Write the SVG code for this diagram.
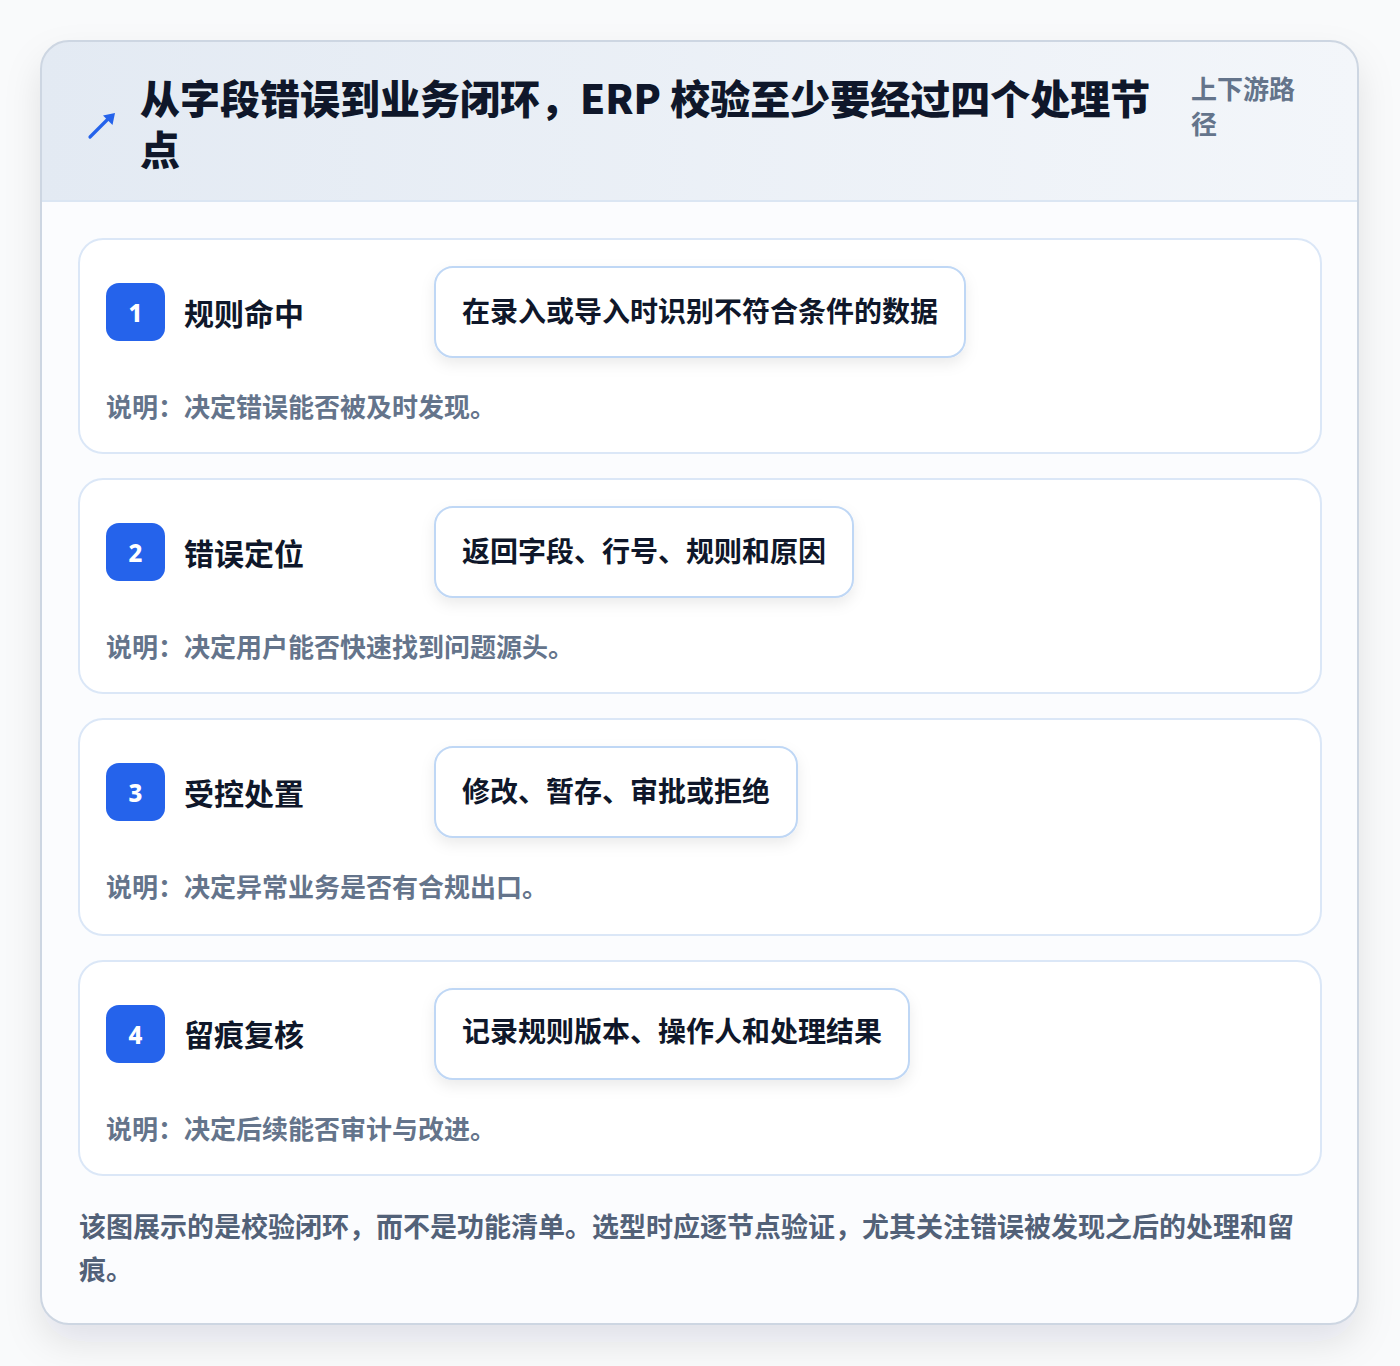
<svg xmlns="http://www.w3.org/2000/svg" width="1400" height="1366" viewBox="0 0 1400 1366">
<defs>
<style>
.t{font-family:"Noto Sans CJK SC","Noto Sans",sans-serif;font-weight:700}
.title{font-size:40px;font-weight:900;fill:#0f172a}
.side{font-size:26px;fill:#64748b}
.step{font-size:30px;fill:#0f172a}
.pilltx{font-size:28px;fill:#0f172a}
.desc{font-size:26px;fill:#64748b}
.foot{font-size:27px;fill:#526178}
.num{font-size:24px;fill:#ffffff;font-family:"Noto Sans","Liberation Sans",sans-serif;font-weight:800}
.card{fill:#ffffff;stroke:#dbe7f7;stroke-width:2}
.badge{fill:#2563eb}
.pill{fill:#ffffff;stroke:#bfd7f5;stroke-width:2}
</style>
<linearGradient id="hdr" x1="0" y1="0" x2="1" y2="0">
<stop offset="0" stop-color="#e3eaf3"/>
<stop offset="1" stop-color="#f3f6fa"/>
</linearGradient>
<filter id="sh" x="-10%" y="-10%" width="120%" height="120%">
<feDropShadow dx="0" dy="18" stdDeviation="18" flood-color="#0f172a" flood-opacity="0.10"/>
</filter>
<filter id="psh" x="-10%" y="-30%" width="120%" height="170%">
<feDropShadow dx="0" dy="6" stdDeviation="7" flood-color="#0f172a" flood-opacity="0.08"/>
</filter>
<clipPath id="cc"><rect x="41" y="41" width="1317" height="1283" rx="28"/></clipPath>
</defs>
<rect width="1400" height="1366" fill="#f9fafb"/>
<g id="main">
<rect x="41" y="41" width="1317" height="1283" rx="28" fill="#fcfdfe" filter="url(#sh)"/>
<g clip-path="url(#cc)">
<rect x="41" y="41" width="1317" height="160" fill="url(#hdr)"/>
<rect x="41" y="201" width="1317" height="1123" fill="#fbfcfe"/>
<line x1="41" y1="201" x2="1358" y2="201" stroke="#dbe6f3" stroke-width="2"/>
</g>
<rect x="41" y="41" width="1317" height="1283" rx="28" fill="none" stroke="#cdd6e2" stroke-width="2"/>
</g>
<g id="header">
<g id="icon">
<line x1="90" y1="137" x2="108" y2="119" stroke="#2563eb" stroke-width="3.2" stroke-linecap="round"/>
<path d="M115 113 L112.5 125 L103 115.5 Z" fill="#2563eb"/>
</g>
<text class="t title"><tspan x="140" y="114">从字段错误到业务闭环，ERP 校验至少要经过四个处理节</tspan><tspan x="140" y="165">点</tspan></text>
<text class="t side"><tspan x="1191" y="99">上下游路</tspan><tspan x="1191" y="134">径</tspan></text>
</g>
<g id="step1">
<rect class="card" x="79" y="239" width="1242" height="214" rx="24"/>
<rect class="badge" x="106" y="283" width="59" height="58" rx="13"/>
<text class="num" x="135.5" y="322" text-anchor="middle">1</text>
<text class="t step" x="184" y="325">规则命中</text>
<rect class="pill" x="435" y="267" width="530" height="90" rx="18" filter="url(#psh)"/>
<text class="t pilltx" x="462" y="322">在录入或导入时识别不符合条件的数据</text>
<text class="t desc" x="106" y="417">说明：决定错误能否被及时发现。</text>
</g>
<g id="step2">
<rect class="card" x="79" y="479" width="1242" height="214" rx="24"/>
<rect class="badge" x="106" y="523" width="59" height="58" rx="13"/>
<text class="num" x="135.5" y="562" text-anchor="middle">2</text>
<text class="t step" x="184" y="565">错误定位</text>
<rect class="pill" x="435" y="507" width="418" height="90" rx="18" filter="url(#psh)"/>
<text class="t pilltx" x="462" y="562">返回字段、行号、规则和原因</text>
<text class="t desc" x="106" y="657">说明：决定用户能否快速找到问题源头。</text>
</g>
<g id="step3">
<rect class="card" x="79" y="719" width="1242" height="216" rx="24"/>
<rect class="badge" x="106" y="763" width="59" height="58" rx="13"/>
<text class="num" x="135.5" y="802" text-anchor="middle">3</text>
<text class="t step" x="184" y="805">受控处置</text>
<rect class="pill" x="435" y="747" width="362" height="90" rx="18" filter="url(#psh)"/>
<text class="t pilltx" x="462" y="802">修改、暂存、审批或拒绝</text>
<text class="t desc" x="106" y="897">说明：决定异常业务是否有合规出口。</text>
</g>
<g id="step4">
<rect class="card" x="79" y="961" width="1242" height="214" rx="24"/>
<rect class="badge" x="106" y="1005" width="59" height="58" rx="13"/>
<text class="num" x="135.5" y="1044" text-anchor="middle">4</text>
<text class="t step" x="184" y="1046">留痕复核</text>
<rect class="pill" x="435" y="989" width="474" height="90" rx="18" filter="url(#psh)"/>
<text class="t pilltx" x="462" y="1042">记录规则版本、操作人和处理结果</text>
<text class="t desc" x="106" y="1139">说明：决定后续能否审计与改进。</text>
</g>
<g id="connectors"></g>
<g id="footer">
<text class="t foot"><tspan x="79" y="1237">该图展示的是校验闭环，而不是功能清单。选型时应逐节点验证，尤其关注错误被发现之后的处理和留</tspan><tspan x="79" y="1280">痕。</tspan></text>
</g>
</svg>
